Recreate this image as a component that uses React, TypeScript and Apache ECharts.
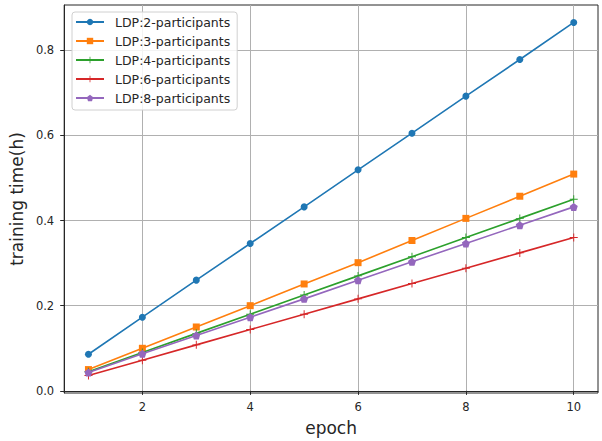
import React, { useEffect, useRef } from "react";
import * as echarts from "echarts";

const epochs = [1, 2, 3, 4, 5, 6, 7, 8, 9, 10];
const p2 = [0.086, 0.173, 0.26, 0.346, 0.432, 0.519, 0.605, 0.692, 0.778, 0.865];
const p3 = [0.05, 0.1, 0.15, 0.2, 0.251, 0.301, 0.353, 0.405, 0.457, 0.509];
const p4 = [0.045, 0.09, 0.135, 0.18, 0.225, 0.27, 0.315, 0.36, 0.405, 0.45];
const p6 = [0.036, 0.072, 0.108, 0.144, 0.18, 0.216, 0.252, 0.288, 0.324, 0.36];
const p8 = [0.043, 0.087, 0.13, 0.173, 0.216, 0.26, 0.303, 0.346, 0.389, 0.432];
const seriesNames = [
  "LDP:2-participants",
  "LDP:3-participants",
  "LDP:4-participants",
  "LDP:6-participants",
  "LDP:8-participants",
];
const xTicks = [2, 4, 6, 8, 10];
const yTicks = [0, 0.2, 0.4, 0.6, 0.8];

const colors = ["#1f77b4", "#ff7f0e", "#2ca02c", "#d62728", "#9467bd"];
const plusPath =
  "path://M0.44,0 H0.56 V0.44 H1 V0.56 H0.56 V1 H0.44 V0.56 H0 V0.44 H0.44 Z";
const pentaPath =
  "path://M0,-1 L0.951,-0.309 L0.588,0.809 L-0.588,0.809 L-0.951,-0.309 Z";
const symbols = ["circle", "rect", plusPath, plusPath, pentaPath];
const sizes = [7, 7, 8, 8, 8];
const font = "'DejaVu Sans', sans-serif";
const textColor = "#262626";

export default function App() {
  const ref = useRef<HTMLDivElement>(null);
  useEffect(() => {
    document.body.style.margin = "0";
    if (!ref.current) return;
    const chart = echarts.init(ref.current, null, { renderer: "svg" });
    const all = [p2, p3, p4, p6, p8];
    chart.setOption({
      animation: false,
      backgroundColor: "#fff",
      grid: {
        left: 64,
        right: 4,
        top: 5,
        bottom: 48,
        show: true,
        borderColor: "#262626",
        borderWidth: 1,
      },
      legend: {
        orient: "vertical",
        left: 72,
        top: 12,
        itemWidth: 28,
        itemHeight: 8,
        itemGap: 5,
        padding: [3, 7, 5, 3],
        backgroundColor: "rgba(255,255,255,0.85)",
        borderColor: "#d0d0d0",
        borderWidth: 1,
        borderRadius: 3,
        textStyle: {
          fontFamily: font,
          fontSize: 12.5,
          lineHeight: 14,
          color: textColor,
          padding: [0, 0, 0, 6],
        },
        data: seriesNames,
      },
      xAxis: {
        type: "value",
        min: 0.55,
        max: 10.45,
        name: "epoch",
        nameLocation: "middle",
        nameGap: 26,
        nameTextStyle: { fontFamily: font, fontSize: 17, color: textColor },
        axisLine: { show: true, lineStyle: { color: "#262626" } },
        axisTick: {
          show: true,
          length: 4,
          customValues: xTicks,
          lineStyle: { color: "#262626" },
        },
        axisLabel: {
          customValues: xTicks,
          fontFamily: font,
          fontSize: 11.5,
          color: textColor,
          margin: 8,
        },
        splitLine: { show: true, lineStyle: { color: "#b0b0b0", width: 1 } },
      },
      yAxis: {
        type: "value",
        min: -0.005,
        max: 0.906,
        name: "training time(h)",
        nameLocation: "middle",
        nameGap: 34,
        nameTextStyle: { fontFamily: font, fontSize: 17, color: textColor },
        axisLine: { show: true, lineStyle: { color: "#262626" } },
        axisTick: {
          show: true,
          length: 4,
          customValues: yTicks,
          lineStyle: { color: "#262626" },
        },
        axisLabel: {
          customValues: yTicks,
          fontFamily: font,
          fontSize: 11.5,
          color: textColor,
          margin: 10,
          formatter: (v: number) => v.toFixed(1),
        },
        splitLine: { show: true, lineStyle: { color: "#b0b0b0", width: 1 } },
      },
      series: all.map((d, i) => ({
        name: seriesNames[i],
        type: "line",
        data: epochs.map((e, j) => [e, d[j]]),
        color: colors[i],
        symbol: symbols[i],
        symbolSize: sizes[i],
        showAllSymbol: true,
        lineStyle: { width: 1.6, color: colors[i] },
        itemStyle: { color: colors[i] },
        z: 2 + i,
      })),
    });
    return () => chart.dispose();
  }, []);
  return <div ref={ref} style={{ width: 602, height: 441 }} />;
}
